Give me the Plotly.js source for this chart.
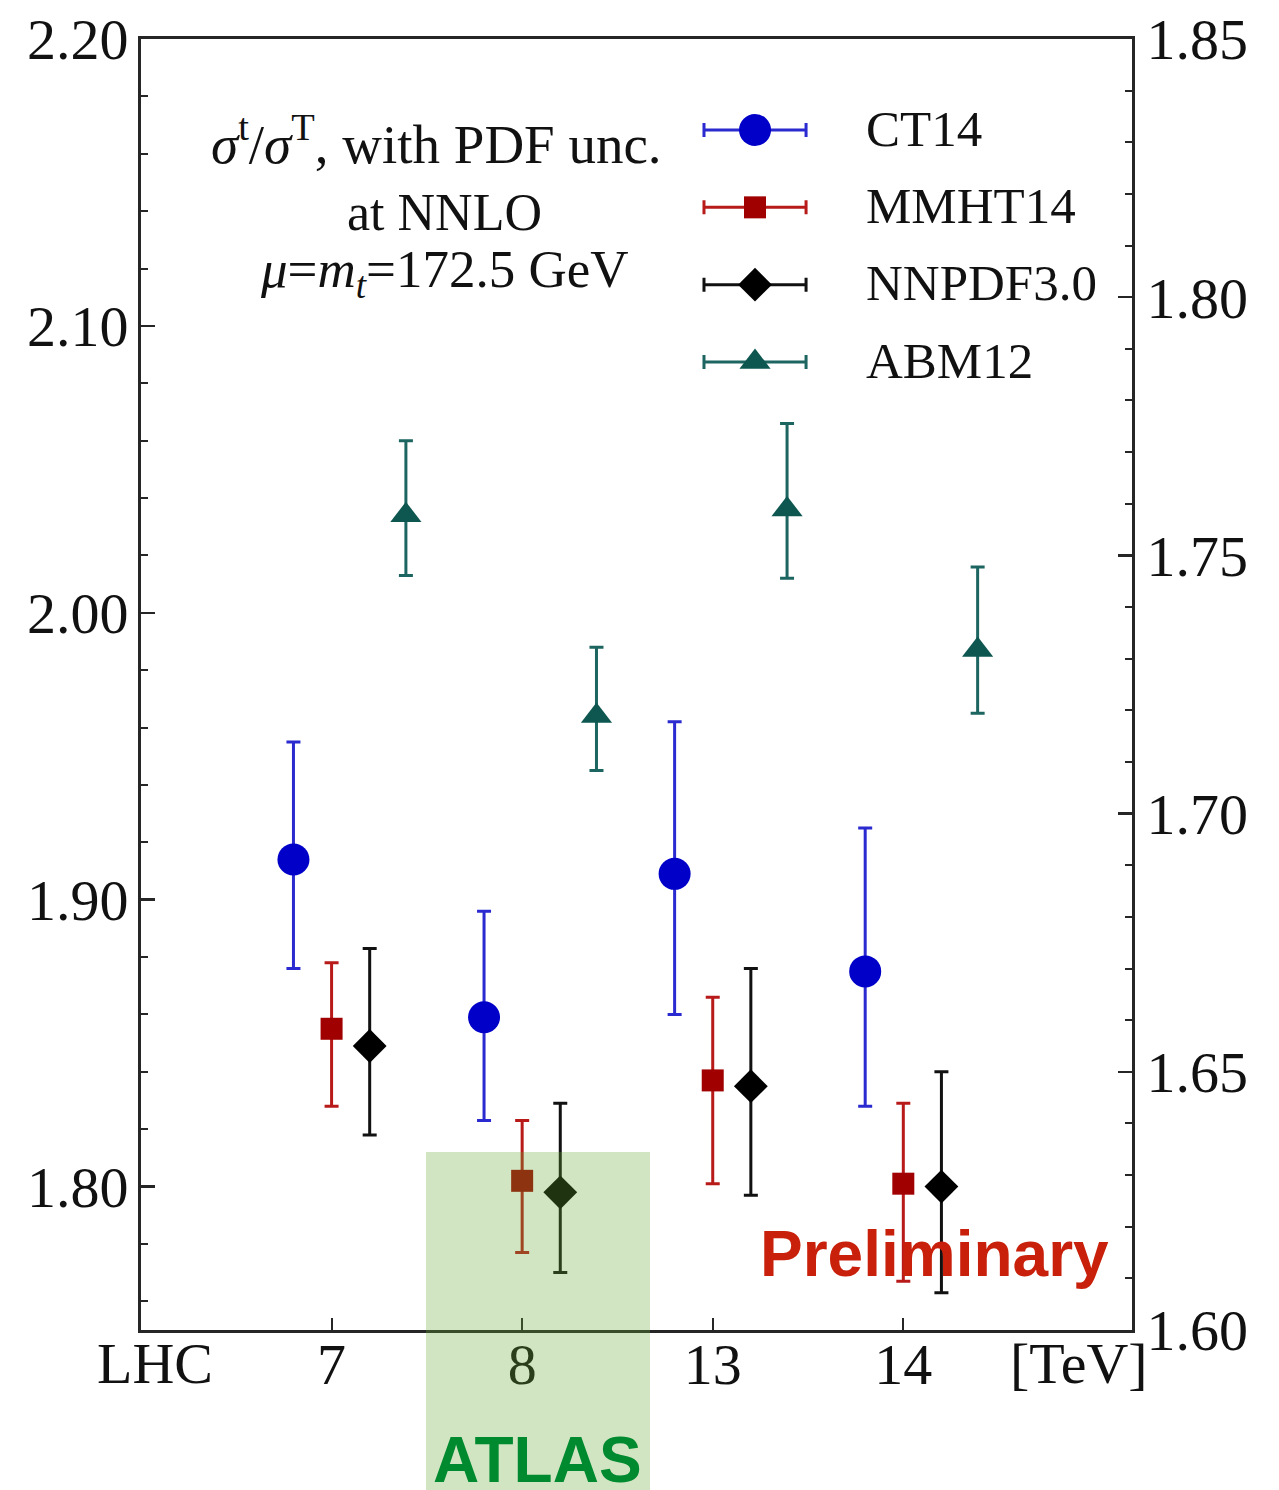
<!DOCTYPE html>
<html>
<head>
<meta charset="utf-8">
<script src="https://cdn.plot.ly/plotly-3.0.1.min.js"></script>
<style>html,body{margin:0;padding:0;background:#fff;}#chart{width:1279px;height:1490px;}</style>
</head>
<body>
<div id="chart"></div>
<script>
// ---- data ----
const energies = ['7', '8', '13', '14'];            // LHC energies [TeV]
const series = ['CT14', 'MMHT14', 'NNPDF3.0', 'ABM12'];

const ct14    = [1.914, 1.859, 1.909, 1.875];
const ct14Hi  = [1.955, 1.896, 1.962, 1.925];
const ct14Lo  = [1.876, 1.823, 1.860, 1.828];

const mmht    = [1.855, 1.802, 1.837, 1.801];
const mmhtHi  = [1.878, 1.823, 1.866, 1.829];
const mmhtLo  = [1.828, 1.777, 1.801, 1.767];

const nnpdf   = [1.849, 1.798, 1.835, 1.800];
const nnpdfHi = [1.883, 1.829, 1.876, 1.840];
const nnpdfLo = [1.818, 1.770, 1.797, 1.763];

const abm     = [2.034, 1.964, 2.036, 1.987];
const abmHi   = [2.060, 1.988, 2.066, 2.016];
const abmLo   = [2.013, 1.945, 2.012, 1.965];

// ---- styling ----
const SERIF = 'Liberation Serif, Times New Roman, serif';
const SANS = 'Liberation Sans, Arial, sans-serif';
const styles = [
  {vals: ct14, hi: ct14Hi, lo: ct14Lo, off: -0.2, color: '#0000c8', bar: '#2a2ad0', symbol: 'circle', size: 32},
  {vals: mmht, hi: mmhtHi, lo: mmhtLo, off: 0.0, color: '#a00000', bar: '#b81a1a', symbol: 'square', size: 22},
  {vals: nnpdf, hi: nnpdfHi, lo: nnpdfLo, off: 0.2, color: '#000000', bar: '#111111', symbol: 'diamond', size: 26},
  {vals: abm, hi: abmHi, lo: abmLo, off: 0.39, color: '#0d5750', bar: '#1d6560', symbol: 'triangle-up', size: 27}
];

const pos = energies.map((e, i) => i + 1);
const traces = [];
styles.forEach((s, k) => {
  traces.push({
    type: 'scatter', mode: 'markers', name: series[k], showlegend: false,
    x: pos.map(p => p + s.off), y: s.vals,
    marker: {symbol: s.symbol, size: s.size, color: s.color, line: {width: 0}},
    error_y: {type: 'data', symmetric: false,
      array: s.hi.map((h, i) => h - s.vals[i]),
      arrayminus: s.lo.map((l, i) => s.vals[i] - l),
      color: s.bar, thickness: 3, width: 7},
    xaxis: 'x', yaxis: 'y'
  });
});
// empty trace so that the right-hand axis is drawn
traces.push({type: 'scatter', mode: 'markers', x: [], y: [], showlegend: false, hoverinfo: 'skip', xaxis: 'x', yaxis: 'y3'});

// legend drawn on an auxiliary [0,1] axis pair
const legX = 0.6196, legHalf = 0.0515, legTop = 0.9295, legStep = 0.0599, legTextX = 0.7296;
const annotations = [];
styles.forEach((s, k) => {
  const ly = legTop - k * legStep;
  traces.push({
    type: 'scatter', mode: 'markers', showlegend: false, hoverinfo: 'skip',
    x: [legX], y: [ly],
    marker: {symbol: s.symbol, size: s.size, color: s.color, line: {width: 0}},
    error_x: {type: 'constant', value: legHalf, color: s.bar, thickness: 3, width: 7},
    xaxis: 'x2', yaxis: 'y2'
  });
  annotations.push({xref: 'paper', yref: 'paper', x: legTextX, y: ly + 0.001, xanchor: 'left', yanchor: 'middle',
    text: series[k], showarrow: false, font: {family: SERIF, size: 51, color: '#111'}});
});

annotations.push(
  {xref: 'paper', yref: 'paper', x: 0.2985, y: 0.921, xanchor: 'center', yanchor: 'middle', showarrow: false,
   text: '<i>σ</i><sup>t</sup>/<i>σ</i><sup>T</sup>, with PDF unc.', font: {family: SERIF, size: 55, color: '#111'}},
  {xref: 'paper', yref: 'paper', x: 0.306, y: 0.8655, xanchor: 'center', yanchor: 'middle', showarrow: false,
   text: 'at NNLO', font: {family: SERIF, size: 52, color: '#111'}},
  {xref: 'paper', yref: 'paper', x: 0.306, y: 0.8185, xanchor: 'center', yanchor: 'middle', showarrow: false,
   text: '<i>μ</i>=<i>m</i><sub><i>t</i></sub>=172.5 GeV', font: {family: SERIF, size: 53, color: '#111'}},
  {xref: 'paper', yref: 'paper', x: 0.0141, y: 0.001, xanchor: 'center', yanchor: 'top', showarrow: false,
   text: 'LHC', font: {family: SERIF, size: 58, color: '#111'}},
  {xref: 'paper', yref: 'paper', x: 0.947, y: 0.001, xanchor: 'center', yanchor: 'top', showarrow: false,
   text: '[TeV]', font: {family: SERIF, size: 58, color: '#111'}},
  {xref: 'paper', yref: 'paper', x: 0.801, y: 0.059, xanchor: 'center', yanchor: 'middle', showarrow: false,
   text: '<b>Preliminary</b>', font: {family: SANS, size: 64, color: '#c8200a'}},
  {xref: 'paper', yref: 'paper', x: 0.4006, y: -0.1005, xanchor: 'center', yanchor: 'middle', showarrow: false,
   text: '<b>ATLAS</b>', font: {family: SANS, size: 64, color: '#008a30'}}
);

const axLine = '#262626';
const layout = {
  width: 1279, height: 1490,
  margin: {l: 141, r: 147, t: 39, b: 160, pad: 0},
  paper_bgcolor: '#fff', plot_bgcolor: '#fff',
  showlegend: false,
  font: {family: SERIF, color: '#111'},
  xaxis: {range: [0, 5.2], tickvals: pos, ticktext: energies, ticks: 'inside', ticklen: 12, tickwidth: 2,
    tickcolor: axLine, showline: true, linecolor: axLine, linewidth: 3, mirror: true,
    showgrid: false, zeroline: false, tickfont: {family: SERIF, size: 58, color: '#111'}, ticklabelstandoff: -19},
  yaxis: {range: [1.75, 2.20], dtick: 0.1, tick0: 1.8, tickformat: '.2f', ticks: 'inside', ticklen: 14, tickwidth: 2.5,
    tickcolor: axLine, showline: true, linecolor: axLine, linewidth: 3, showgrid: false, zeroline: false,
    minor: {dtick: 0.02, ticks: 'inside', ticklen: 7, tickwidth: 2, tickcolor: axLine},
    tickfont: {family: SERIF, size: 58, color: '#111'}, ticklabelstandoff: -2},
  yaxis3: {range: [1.60, 1.85], dtick: 0.05, tick0: 1.6, tickformat: '.2f', overlaying: 'y', side: 'right', anchor: 'x',
    ticks: 'inside', ticklen: 14, tickwidth: 2.5, tickcolor: axLine, showline: true, linecolor: axLine, linewidth: 3,
    showgrid: false, zeroline: false,
    minor: {dtick: 0.01, ticks: 'inside', ticklen: 7, tickwidth: 2, tickcolor: axLine},
    tickfont: {family: SERIF, size: 58, color: '#111'}, ticklabelstandoff: 0},
  xaxis2: {range: [0, 1], overlaying: 'x', anchor: 'y2', visible: false, fixedrange: true},
  yaxis2: {range: [0, 1], overlaying: 'y', anchor: 'x2', visible: false, fixedrange: true},
  shapes: [{type: 'rect', xref: 'paper', yref: 'paper', x0: 0.2876, x1: 0.5136, y0: -0.124, y1: 0.1379,
    fillcolor: 'rgba(103,170,53,0.3)', line: {width: 0}, layer: 'above'}],
  annotations: annotations
};

Plotly.newPlot('chart', traces, layout, {staticPlot: true, displayModeBar: false});
</script>
</body>
</html>
